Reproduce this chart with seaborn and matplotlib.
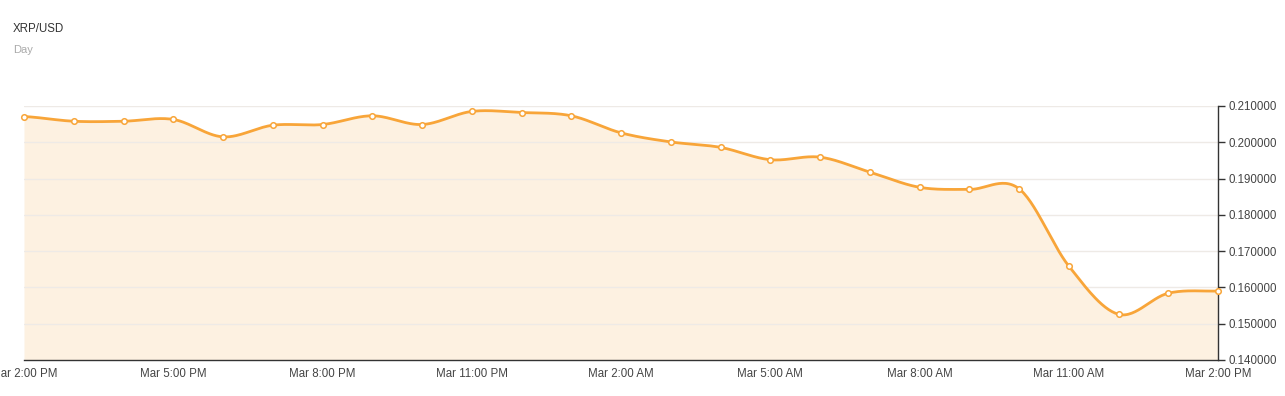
import numpy as np
import pandas as pd
import matplotlib
matplotlib.use('Agg')
import matplotlib.pyplot as plt
import seaborn as sns

# datos horarios XRP/USD
hours = list(range(25))
price = [0.2071, 0.2058, 0.2058, 0.2063, 0.2015, 0.2047, 0.2049, 0.2073, 0.2049,
         0.2085, 0.2082, 0.2073, 0.2026, 0.2001, 0.1986, 0.1952, 0.1959, 0.1918,
         0.1876, 0.1870, 0.1872, 0.1659, 0.1526, 0.1584, 0.1590]
tick_pos = [0, 3, 6, 9, 12, 15, 18, 21, 24]
tick_labels = ['Mar 2:00 PM', 'Mar 5:00 PM', 'Mar 8:00 PM', 'Mar 11:00 PM', 'Mar 2:00 AM',
               'Mar 5:00 AM', 'Mar 8:00 AM', 'Mar 11:00 AM', 'Mar 2:00 PM']
y_ticks = [0.14, 0.15, 0.16, 0.17, 0.18, 0.19, 0.20, 0.21]

orange = '#f8a539'
fill_col = '#fdf1e1'

sns.set_style('white')
plt.rcParams['font.family'] = ['Liberation Sans', 'DejaVu Sans']


# curva suave tipo spline (Catmull-Rom) sobre los puntos
def spline(x, y, n=30):
    x = np.asarray(x, float)
    y = np.asarray(y, float)
    xp = np.concatenate([[2 * x[0] - x[1]], x, [2 * x[-1] - x[-2]]])
    yp = np.concatenate([[y[0]], y, [y[-1]]])
    xs, ys = [], []
    for i in range(1, len(xp) - 2):
        t = np.linspace(0, 1, n, endpoint=False)
        for arr, out in ((xp, xs), (yp, ys)):
            p0, p1, p2, p3 = arr[i - 1], arr[i], arr[i + 1], arr[i + 2]
            out.extend(0.5 * (2 * p1 + (-p0 + p2) * t + (2 * p0 - 5 * p1 + 4 * p2 - p3) * t ** 2
                              + (-p0 + 3 * p1 - 3 * p2 + p3) * t ** 3))
    xs.append(x[-1])
    ys.append(y[-1])
    return np.array(xs), np.array(ys)


sx, sy = spline(hours, price)
curve = pd.DataFrame({'x': sx, 'y': sy})
pts = pd.DataFrame({'x': hours, 'y': price})

fig = plt.figure(figsize=(12.85, 3.96), dpi=100)
ax = fig.add_axes([24 / 1285, 1 - 360 / 396, (1218 - 24) / 1285, (360 - 106) / 396])

ax.fill_between(sx, sy, 0.14, color=fill_col, lw=0, zorder=1)
for yt in y_ticks[1:]:
    ax.axhline(yt, color='#eeeae6', lw=1, zorder=1.5)
sns.lineplot(data=curve, x='x', y='y', color=orange, lw=2, ax=ax, zorder=3, sort=False)
sns.scatterplot(data=pts, x='x', y='y', color='white', edgecolor=orange, s=16, linewidth=1.1,
                ax=ax, zorder=4, clip_on=False)

ax.set_xlim(0, 24)
ax.set_ylim(0.14, 0.21)
ax.set_xlabel('')
ax.set_ylabel('')
ax.set_xticks(tick_pos)
ax.set_xticklabels(tick_labels)
ax.yaxis.tick_right()
ax.set_yticks(y_ticks)
ax.set_yticklabels(['%.6f' % v for v in y_ticks])
ax.tick_params(axis='both', labelsize=8.3, labelcolor='#444444', color='#333333',
               length=5, width=1, direction='out')
ax.tick_params(axis='x', pad=1)
ax.tick_params(axis='y', pad=2.5, left=False, right=True)

for s in ['top', 'left']:
    ax.spines[s].set_visible(False)
for s in ['bottom', 'right']:
    ax.spines[s].set_color('#333333')
    ax.spines[s].set_linewidth(1)

fig.text(13 / 1285, 1 - 29 / 396, 'XRP/USD', fontsize=8.3, color='#333333', va='center', ha='left')
fig.text(13 / 1285, 1 - 50 / 396, 'Day', fontsize=8, color='#aaaaaa', va='center', ha='left')

fig.savefig('out.png', dpi=100)
